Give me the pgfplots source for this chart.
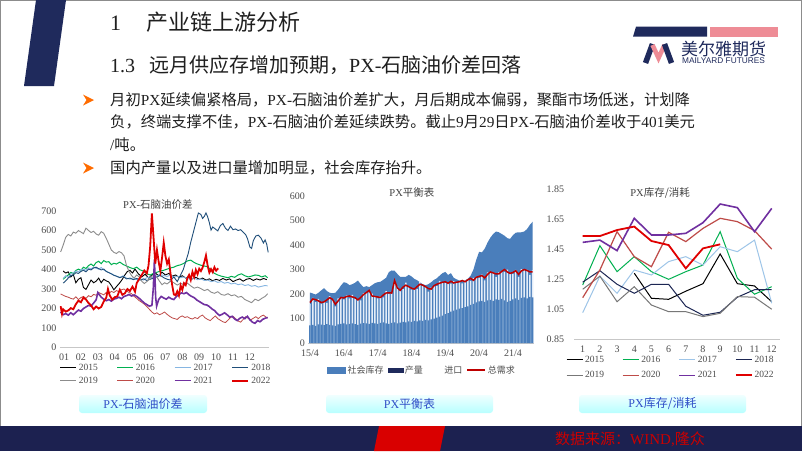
\documentclass[border=0pt]{standalone}
\usepackage{fontspec}
\setmainfont{Liberation Serif}
\newfontfamily\cjk{Noto Sans CJK SC}
\newfontfamily\lsans{Liberation Sans}
\usepackage{pgfplots}
\pgfplotsset{compat=1.18}
\usepackage{pgfplotstable}
\definecolor{navy}{HTML}{1F2A5C}
\definecolor{footnavy}{HTML}{1C2150}
\definecolor{pinkc}{HTML}{EE8C96}
\definecolor{c15}{HTML}{000000}
\definecolor{c16}{HTML}{00B050}
\definecolor{c17}{HTML}{86B6E2}
\definecolor{c18}{HTML}{1F4E79}
\definecolor{c19}{HTML}{8C8C8C}
\definecolor{c20}{HTML}{BE4B48}
\definecolor{c21}{HTML}{7030A0}
\definecolor{c22}{HTML}{E00000}
\definecolor{areablue}{HTML}{4A7EBB}
\definecolor{lightcol}{HTML}{E4EDF8}
\definecolor{btnblue}{HTML}{3050C8}

\pgfplotstableread{
t S P T D
0 206 72 159 165
1 202 74 184 180
2 198 70 167 177
3 205 76 180 172
4 215 75 161 165
5 224 73 170 168
6 212 77 164 176
7 205 74 191 185
8 203 72 178 178
9 205 70 150 158
10 218 76 182 172
11 235 78 184 186
12 248 80 178 184
13 245 76 194 190
14 236 78 182 192
15 240 80 196 188
16 246 77 181 185
17 255 74 178 176
18 240 79 174 186
19 228 81 204 198
20 232 80 206 206
21 228 78 207 215
22 236 82 202 192
23 244 80 188 190
24 248 78 182 188
25 250 82 190 186
26 258 84 186 196
27 266 80 212 204
28 290 78 201 205
29 296 82 206 204
30 295 84 243 255
31 282 80 231 225
32 270 83 215 215
33 270 86 220 228
34 270 84 246 236
35 278 88 228 230
36 272 86 218 224
37 262 90 224 220
38 256 88 220 230
39 248 92 248 240
40 240 90 232 236
41 236 94 232 230
42 240 92 210 222
43 248 96 226 220
44 258 100 234 234
45 264 104 232 240
46 275 108 254 244
47 285 112 246 248
48 290 118 244 250
49 278 122 248 244
50 285 128 242 252
51 266 132 253 245
52 260 136 244 248
53 255 140 252 250
54 252 142 243 255
55 256 146 256 250
56 262 150 258 258
57 275 156 254 264
58 300 160 266 256
59 340 166 266 268
60 372 170 266 272
61 370 172 279 275
62 385 168 256 266
63 410 174 288 280
64 430 176 286 290
65 445 172 288 286
66 455 178 270 282
67 452 176 288 282
68 445 180 292 292
69 438 174 290 300
70 428 168 300 290
71 425 172 282 284
72 440 178 282 288
73 450 182 299 295
74 452 176 270 280
75 452 184 302 294
76 455 186 296 300
77 465 182 298 296
78 482 188 278 290
79 495 186 296 290
}\baltable

\pgfplotsset{
  slide/.style={scale only axis, enlargelimits=false, axis lines*=left,
    x axis line style={draw=black!22}, y axis line style={draw=none},
    tick style={draw=none},
    tick label style={font=\fontsize{10}{10}\selectfont, text=black!70},
    /pgf/number format/assume math mode=true,
    legend style={draw=none, fill=none, inner sep=0pt, row sep=3pt,
      font=\fontsize{9.5}{9.5}\selectfont, text=black!70,
      nodes={inner xsep=2pt, inner ysep=0.5pt}},
    legend cell align=left,
    legend image code/.code={\draw[##1, line cap=butt] (0pt,0pt) -- (16pt,0pt);},
    title style={inner sep=0pt, anchor=center, font=\fontsize{10.5}{10.5}\selectfont, text=black!75},
  }
}

\begin{document}
\begin{tikzpicture}
\path[use as bounding box] (0pt,0pt) rectangle (802pt,451pt);
\fill[white] (0pt,0pt) rectangle (802pt,451pt);
\begin{scope}[x=1pt,y=1pt]
\draw[black!45, line width=0.8pt] (0.5,0) -- (0.5,450.5) -- (801.5,450.5) -- (801.5,0);

% header bar
\fill[navy] (36,451) -- (66,451) -- (54,365) -- (24,365) -- cycle;
\node[anchor=west, inner sep=0pt, text=black!88] at (110,429) {\fontsize{22}{22}\selectfont 1\hspace{25pt}{\cjk 产业链上游分析}};
\node[anchor=west, inner sep=0pt, text=black!88] at (110,386) {\fontsize{20}{20}\selectfont 1.3\hspace{14pt}{\cjk 远月供应存增加预期，}PX-{\cjk 石脑油价差回落}};

% logo
\fill[navy] (636,424.3) -- (707,424.3) -- (707,414.3) -- (633,414.3) -- cycle;
\fill[pinkc] (710,424.3) -- (778,424.3) -- (778,414.3) -- (710,414.3) -- cycle;
\draw[navy, line width=5.5pt] (645.5,388) -- (652.5,407);
\draw[pinkc, line width=4.5pt] (652.5,406) -- (658.5,393) -- (664.5,406);
\draw[navy, line width=5.5pt] (664.5,407) -- (671.5,388);
\node[anchor=west, inner sep=0pt, text=navy] at (681,402) {\fontsize{17}{17}\selectfont\cjk 美尔雅期货};
\node[anchor=west, inner sep=0pt, text=navy] at (682,390.5) {\fontsize{8.3}{8.3}\selectfont\lsans MAILYARD FUTURES};

% bullets
\foreach \yy in {351,283} {
  \fill[orange!85!red] (83,\yy+5.5) -- (94,\yy) -- (83,\yy-5.5) -- (86.5,\yy) -- cycle;
}
\begin{scope}[every node/.style={anchor=west, inner sep=0pt, text=black!88, font=\fontsize{15.3}{15.3}\selectfont}]
\node at (110,351) {{\cjk 月初}PX{\cjk 延续偏紧格局，}PX-{\cjk 石脑油价差扩大，月后期成本偏弱，聚酯市场低迷，计划降}};
\node at (110,329) {{\cjk 负，终端支撑不佳，}PX-{\cjk 石脑油价差延续跌势。截止}9{\cjk 月}29{\cjk 日}PX-{\cjk 石脑油价差收于}401{\cjk 美元}};
\node at (110,306) {/{\cjk 吨。}};
\node at (110,283) {{\cjk 国内产量以及进口量增加明显，社会库存抬升。}};
\end{scope}

% buttons
\foreach \xa/\xb/\lab in {79/207/{PX-{\cjk 石脑油价差}}, 326/493/{PX{\cjk 平衡表}}, 579/746/{PX{\cjk 库存/消耗}}} {
  \shade[rounded corners=3pt, top color=cyan!6, bottom color=cyan!28] (\xa,38) rectangle (\xb,56);
  \node[text=btnblue, inner sep=0pt, font=\fontsize{12}{12}\selectfont] at ({(\xa+\xb)/2},47) {\lab};
}

% footer
\fill[footnavy] (0,0) rectangle (802,25);
\fill[red!85!black] (374,0) -- (440,0) -- (445,25) -- (379,25) -- cycle;
\node[text=red!80!black, inner sep=0pt, font=\fontsize{15}{15}\selectfont] at (630,12) {{\cjk 数据来源：}WIND,{\cjk 隆众}};
\end{scope}

% ---------- chart 1 ----------
\begin{axis}[slide, at={(59.8pt,103.5pt)}, anchor=south west,
  width=208.7pt, height=136.5pt,
  xmin=0.75, xmax=13.1, ymin=0, ymax=700,
  xtick={1,...,12}, xticklabels={01,02,03,04,05,06,07,08,09,10,11,12},
  ytick={0,100,...,700},
  xticklabel style={yshift=-2.8pt},
  title={PX-{\cjk 石脑油价差}}, title style={at={(0.47,1)}, yshift=0pt},
  legend columns=4,
  legend style={at={(0,-0.115)}, anchor=north west, row sep=4pt,
    /tikz/every even column/.append style={column sep=17pt}},
]
\addplot[c15, line width=0.9pt] coordinates {(0.95,392)(1.1,382)(1.25,388)(1.4,362)(1.55,374)(1.7,332)(1.85,350)(2.0,358)(2.15,308)(2.3,298)(2.45,322)(2.6,346)(2.75,332)(2.9,340)(3.05,356)(3.2,332)(3.35,350)(3.5,342)(3.65,336)(3.8,318)(3.95,296)(4.1,312)(4.3,332)(4.45,350)(4.6,372)(4.75,390)(4.9,396)(5.05,382)(5.2,402)(5.4,378)(5.6,362)(5.8,376)(6.0,356)(6.2,372)(6.4,382)(6.6,368)(6.8,386)(7.0,372)(7.2,380)(7.4,366)(7.6,372)(7.8,360)(8.0,368)(8.2,356)(8.4,362)(8.6,352)(8.8,360)(9.0,350)(9.2,356)(9.4,346)(9.6,352)(9.8,342)(10.0,350)(10.2,344)(10.4,354)(10.6,346)(10.8,352)(11.0,338)(11.2,346)(11.4,352)(11.6,340)(11.8,350)(12.0,354)(12.2,344)(12.4,352)(12.6,346)(12.8,354)(13.0,348)};
\addlegendentry{2015}
\addplot[c16, line width=1pt] coordinates {(0.95,350)(1.1,362)(1.25,372)(1.4,385)(1.55,380)(1.7,395)(1.85,402)(2.0,396)(2.15,412)(2.3,405)(2.45,420)(2.6,428)(2.75,418)(2.9,436)(3.05,442)(3.2,430)(3.35,446)(3.5,438)(3.65,440)(3.8,425)(3.95,432)(4.1,428)(4.3,438)(4.5,426)(4.7,418)(4.9,410)(5.1,404)(5.3,412)(5.5,398)(5.7,392)(5.9,378)(6.1,372)(6.3,380)(6.5,386)(6.7,392)(6.9,396)(7.1,402)(7.3,408)(7.5,412)(7.7,420)(7.9,424)(8.1,432)(8.3,444)(8.5,448)(8.7,436)(8.9,428)(9.1,422)(9.3,418)(9.5,414)(9.7,398)(9.9,380)(10.1,372)(10.3,366)(10.5,362)(10.7,358)(10.9,365)(11.1,360)(11.3,372)(11.5,378)(11.7,368)(11.9,362)(12.1,366)(12.3,372)(12.5,370)(12.7,362)(12.9,368)(13.05,358)};
\addlegendentry{2016}
\addplot[c17, line width=0.9pt] coordinates {(0.95,355)(1.1,368)(1.25,360)(1.4,376)(1.55,384)(1.7,392)(1.85,388)(2.0,398)(2.15,402)(2.3,396)(2.45,408)(2.6,404)(2.75,412)(2.9,406)(3.05,402)(3.2,410)(3.35,398)(3.5,392)(3.65,384)(3.8,378)(3.95,372)(4.1,366)(4.3,360)(4.5,368)(4.7,356)(4.9,350)(5.1,358)(5.3,348)(5.5,352)(5.7,346)(5.9,358)(6.1,362)(6.3,356)(6.5,368)(6.7,374)(6.9,370)(7.1,364)(7.3,372)(7.5,360)(7.7,366)(7.9,358)(8.1,362)(8.3,354)(8.5,350)(8.7,356)(8.9,348)(9.1,352)(9.3,344)(9.5,346)(9.7,338)(9.9,342)(10.1,334)(10.3,338)(10.5,330)(10.7,334)(10.9,326)(11.1,330)(11.3,322)(11.5,326)(11.7,318)(11.9,322)(12.1,314)(12.3,318)(12.5,310)(12.7,314)(12.9,318)(13.05,316)};
\addlegendentry{2017}
\addplot[c18, line width=0.9pt] coordinates {(0.95,330)(1.1,342)(1.25,356)(1.4,368)(1.55,372)(1.7,384)(1.85,380)(2.0,390)(2.15,396)(2.3,388)(2.45,402)(2.6,398)(2.75,408)(2.9,412)(3.05,404)(3.2,398)(3.35,402)(3.5,390)(3.65,384)(3.8,378)(3.95,370)(4.1,366)(4.3,358)(4.5,364)(4.7,352)(4.9,356)(5.1,348)(5.3,354)(5.5,346)(5.7,352)(5.9,344)(6.1,350)(6.3,356)(6.5,362)(6.7,370)(6.9,358)(7.1,350)(7.3,346)(7.5,362)(7.7,338)(7.9,372)(8.05,398)(8.2,440)(8.35,482)(8.5,540)(8.65,590)(8.8,640)(8.95,690)(9.1,682)(9.2,662)(9.3,672)(9.4,690)(9.5,670)(9.6,640)(9.7,602)(9.8,618)(9.95,608)(10.1,598)(10.25,625)(10.4,636)(10.55,612)(10.7,600)(10.85,622)(11.0,604)(11.15,608)(11.3,600)(11.45,604)(11.6,592)(11.75,578)(11.85,560)(12.0,515)(12.1,508)(12.2,548)(12.35,572)(12.5,576)(12.65,562)(12.8,536)(12.9,552)(13.0,528)(13.08,488)};
\addlegendentry{2018}
\addplot[c19, line width=0.9pt] coordinates {(0.8,490)(0.95,525)(1.1,565)(1.25,580)(1.4,572)(1.55,592)(1.7,586)(1.85,600)(2.0,592)(2.15,584)(2.3,612)(2.45,600)(2.6,590)(2.75,596)(2.9,582)(3.05,576)(3.2,594)(3.35,586)(3.5,560)(3.65,530)(3.8,500)(3.95,488)(4.1,482)(4.25,492)(4.4,486)(4.55,470)(4.7,420)(4.85,390)(5.0,368)(5.15,356)(5.3,372)(5.45,362)(5.6,340)(5.75,328)(5.9,338)(6.05,350)(6.2,366)(6.35,372)(6.5,360)(6.65,340)(6.8,322)(6.95,332)(7.1,326)(7.3,340)(7.5,332)(7.7,320)(7.9,330)(8.1,322)(8.3,330)(8.5,316)(8.7,304)(8.9,310)(9.1,302)(9.3,292)(9.5,298)(9.7,284)(9.9,278)(10.1,286)(10.3,272)(10.5,268)(10.7,276)(10.9,266)(11.1,270)(11.3,258)(11.5,262)(11.7,246)(11.9,238)(12.1,230)(12.3,248)(12.5,240)(12.7,252)(12.9,262)(13.05,276)};
\addlegendentry{2019}
\addplot[c20, line width=0.8pt] coordinates {(0.8,275)(0.95,268)(1.1,262)(1.25,258)(1.4,252)(1.55,248)(1.7,260)(1.85,246)(2.0,256)(2.15,262)(2.3,252)(2.45,266)(2.6,260)(2.75,272)(2.9,268)(3.05,282)(3.2,276)(3.35,270)(3.5,282)(3.65,276)(3.8,288)(3.95,282)(4.1,292)(4.25,286)(4.4,296)(4.55,300)(4.7,290)(4.85,282)(5.0,276)(5.15,262)(5.3,252)(5.45,240)(5.6,232)(5.75,222)(5.9,210)(6.05,196)(6.2,182)(6.35,172)(6.5,178)(6.65,168)(6.8,174)(6.95,182)(7.1,170)(7.25,160)(7.4,152)(7.55,148)(7.7,144)(7.85,156)(8.0,162)(8.15,154)(8.3,158)(8.45,150)(8.6,146)(8.75,154)(8.9,148)(9.05,160)(9.2,166)(9.35,152)(9.5,144)(9.65,138)(9.8,150)(9.95,162)(10.1,148)(10.25,140)(10.4,132)(10.55,128)(10.7,140)(10.85,154)(11.0,160)(11.15,148)(11.3,136)(11.45,130)(11.6,144)(11.75,158)(11.9,150)(12.05,142)(12.2,150)(12.35,158)(12.5,148)(12.65,160)(12.8,166)(12.95,156)(13.05,152)};
\addlegendentry{2020}
\addplot[c21, line width=1.6pt] coordinates {(0.8,182)(0.95,168)(1.1,174)(1.25,166)(1.4,178)(1.55,168)(1.7,180)(1.85,192)(2.0,186)(2.15,200)(2.3,208)(2.45,216)(2.6,212)(2.75,228)(2.9,244)(3.0,282)(3.1,270)(3.2,258)(3.35,248)(3.5,240)(3.65,246)(3.8,238)(3.95,248)(4.1,252)(4.25,258)(4.4,250)(4.55,262)(4.7,266)(4.85,272)(5.0,264)(5.15,270)(5.3,262)(5.45,252)(5.6,240)(5.75,228)(5.9,220)(6.05,212)(6.2,216)(6.28,300)(6.35,452)(6.42,260)(6.48,212)(6.6,246)(6.75,262)(6.9,254)(7.05,248)(7.2,258)(7.35,250)(7.5,246)(7.65,262)(7.8,272)(7.95,280)(8.1,276)(8.25,282)(8.4,270)(8.55,262)(8.7,256)(8.85,244)(9.0,236)(9.15,228)(9.3,220)(9.45,218)(9.6,210)(9.75,198)(9.9,190)(10.05,176)(10.2,164)(10.35,170)(10.5,178)(10.65,168)(10.8,156)(10.95,160)(11.1,146)(11.25,138)(11.4,150)(11.55,156)(11.7,148)(11.85,160)(12.0,142)(12.15,130)(12.3,124)(12.45,138)(12.6,132)(12.75,144)(12.9,150)(13.05,154)};
\addlegendentry{2021}
\addplot[c22, line width=1.8pt] coordinates {(0.8,212)(0.88,172)(0.95,196)(1.1,184)(1.25,190)(1.4,202)(1.55,196)(1.7,222)(1.85,240)(2.0,232)(2.15,256)(2.3,246)(2.45,228)(2.6,216)(2.75,196)(2.9,210)(3.05,200)(3.2,208)(3.35,236)(3.5,256)(3.6,300)(3.7,268)(3.85,246)(4.0,258)(4.15,262)(4.3,296)(4.45,270)(4.6,278)(4.75,300)(4.9,290)(5.05,312)(5.2,286)(5.3,330)(5.45,352)(5.6,372)(5.75,395)(5.9,380)(6.0,420)(6.1,520)(6.2,688)(6.3,560)(6.4,430)(6.5,500)(6.6,440)(6.7,392)(6.8,460)(6.9,538)(7.0,470)(7.1,430)(7.2,452)(7.3,380)(7.4,320)(7.5,272)(7.6,268)(7.7,288)(7.8,266)(7.9,318)(8.0,296)(8.1,330)(8.2,320)(8.3,356)(8.4,372)(8.5,346)(8.6,388)(8.7,362)(8.8,398)(8.9,376)(9.0,404)(9.1,392)(9.2,410)(9.3,438)(9.4,472)(9.5,420)(9.6,384)(9.7,402)(9.8,386)(9.9,412)(10.0,394)(10.12,406)};
\addlegendentry{2022}
\end{axis}

% ---------- chart 2 ----------
\begin{axis}[slide, at={(308.3pt,108pt)}, anchor=south west,
  width=225.2pt, height=147pt,
  xmin=-0.6, xmax=79.3, ymin=0, ymax=600,
  xtick={0,12,24,36,48,60,72}, xticklabels={15/4,16/4,17/4,18/4,19/4,20/4,21/4},
  ytick={0,100,...,600},
  xticklabel style={yshift=-3pt},
  title={PX{\cjk 平衡表}}, title style={at={(0.46,1)}, yshift=-3pt},
  legend columns=4,
  legend style={at={(0.083,-0.15)}, anchor=north west,
    font=\fontsize{9}{9}\selectfont\cjk,
    /tikz/every even column/.append style={column sep=2pt}},
]
\addplot[fill=areablue, draw=none, forget plot] table[x=t, y=S] {\baltable} \closedcycle;
\addplot[ybar, bar shift=0pt, bar width=1.5pt, fill=lightcol, draw=none, forget plot] table[x=t, y=T] {\baltable};
\addplot[ybar, bar shift=0pt, bar width=1.5pt, fill=areablue, draw=none, forget plot] table[x=t, y=P] {\baltable};
\addplot[c22!85!black, line width=1.5pt, forget plot] table[x=t, y=D] {\baltable};
\addlegendimage{legend image code/.code={\fill[areablue] (0pt,-2.8pt) rectangle (18pt,2.8pt);}}
\addlegendentry{社会库存}
\addlegendimage{legend image code/.code={\fill[navy] (0pt,-2pt) rectangle (15pt,2pt);}}
\addlegendentry{产量}
\addlegendimage{legend image code/.code={\fill[white] (0pt,-2pt) rectangle (15pt,2pt);}}
\addlegendentry{进口}
\addlegendimage{legend image code/.code={\draw[c22!85!black, line width=1.6pt] (0pt,0pt) -- (18pt,0pt);}}
\addlegendentry{总需求}
\end{axis}

% ---------- chart 3 ----------
\begin{axis}[slide, at={(574.1pt,111.7pt)}, anchor=south west,
  width=206.2pt, height=150.3pt,
  xmin=0.5, xmax=12.5, ymin=0.85, ymax=1.85,
  xtick={1,...,12},
  ytick={0.85,1.05,1.25,1.45,1.65,1.85},
  yticklabel style={xshift=-6.5pt, /pgf/number format/.cd, fixed, fixed zerofill, precision=2},
  xticklabel style={yshift=-3pt},
  title={PX{\cjk 库存/消耗}}, title style={at={(0.417,1)}, yshift=-10pt},
  legend columns=4,
  legend style={at={(-0.04,-0.107)}, anchor=north west, row sep=6.5pt,
    /tikz/every even column/.append style={column sep=16pt}},
]
\addplot[c15, line width=1pt] coordinates {(4,1.29)(5,1.123)(6,1.116)(7,1.17)(8,1.22)(9,1.418)(10,1.22)(11,1.205)(12,1.10)};
\addlegendentry{2015}
\addplot[c16, line width=1pt] coordinates {(1,1.211)(2,1.473)(3,1.30)(4,1.40)(5,1.30)(6,1.249)(7,1.30)(8,1.344)(9,1.566)(10,1.256)(11,1.15)(12,1.20)};
\addlegendentry{2016}
\addplot[c17!80!white, line width=1pt] coordinates {(1,1.027)(2,1.27)(3,1.156)(4,1.311)(5,1.278)(6,1.367)(7,1.40)(8,1.344)(9,1.466)(10,1.433)(11,1.51)(12,1.09)};
\addlegendentry{2017}
\addplot[navy!90!black, line width=1pt] coordinates {(1,1.23)(2,1.307)(3,1.216)(4,1.156)(5,1.216)(6,1.216)(7,1.07)(8,1.01)(9,1.03)(10,1.13)(11,1.18)(12,1.18)};
\addlegendentry{2018}
\addplot[c19!85!black, line width=1pt] coordinates {(1,1.183)(2,1.27)(3,1.10)(4,1.20)(5,1.078)(6,1.034)(7,1.034)(8,1.001)(9,1.023)(10,1.134)(11,1.13)(12,1.05)};
\addlegendentry{2019}
\addplot[c20, line width=1.2pt] coordinates {(1,1.127)(2,1.311)(3,1.566)(4,1.40)(5,1.333)(6,1.562)(7,1.50)(8,1.588)(9,1.655)(10,1.633)(11,1.573)(12,1.45)};
\addlegendentry{2020}
\addplot[c21, line width=1.6pt] coordinates {(1,1.495)(2,1.51)(3,1.44)(4,1.655)(5,1.544)(6,1.544)(7,1.555)(8,1.626)(9,1.75)(10,1.726)(11,1.566)(12,1.721)};
\addlegendentry{2021}
\addplot[c22, line width=1.8pt] coordinates {(1,1.537)(2,1.537)(3,1.577)(4,1.60)(5,1.504)(6,1.477)(7,1.322)(8,1.455)(9,1.482)};
\addlegendentry{2022}
\end{axis}
\end{tikzpicture}
\end{document}
